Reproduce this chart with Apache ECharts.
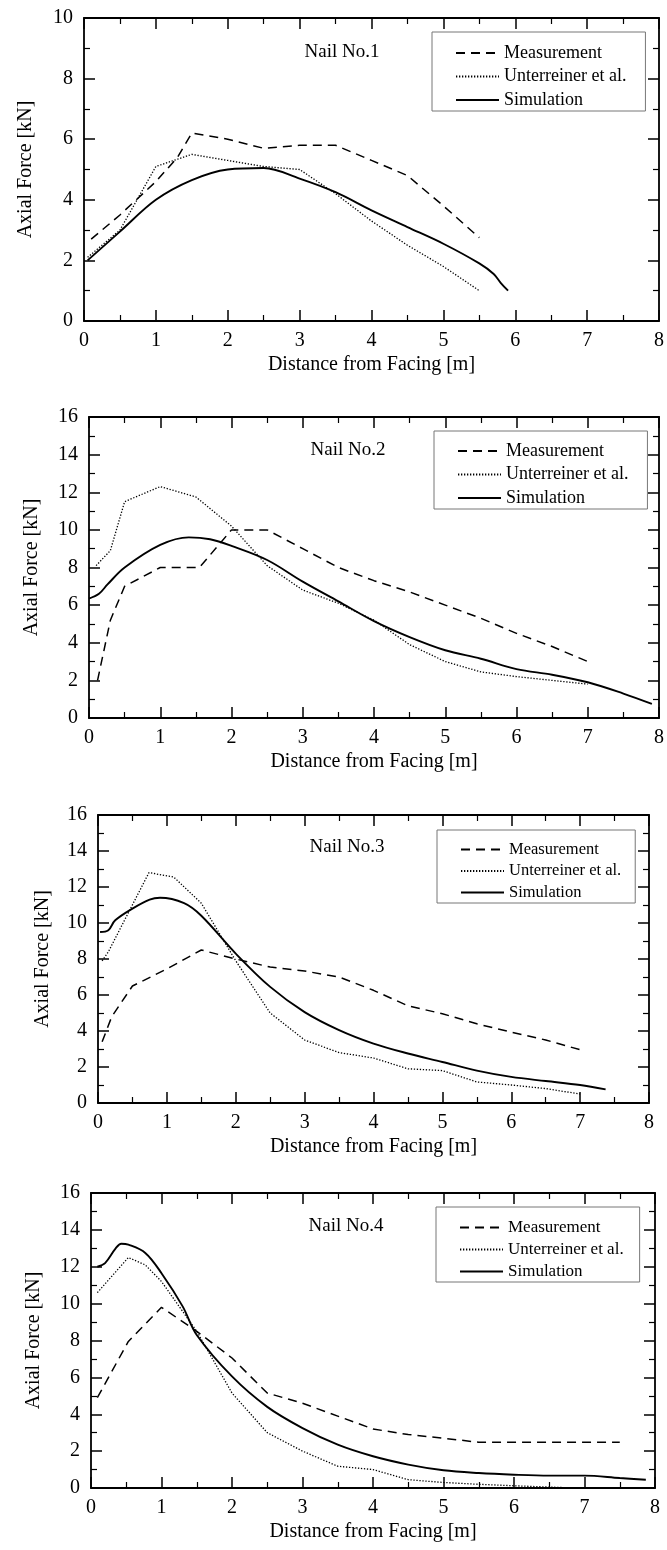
<!DOCTYPE html>
<html>
<head>
<meta charset="utf-8">
<script src="https://cdn.jsdelivr.net/npm/echarts@6/dist/echarts.min.js"></script>
<style>
html,body{margin:0;padding:0;background:#fff;}
#chart{width:667px;height:1550px;}
</style>
</head>
<body>
<div id="chart"></div>
<script>
// ---- data ----
const xTicks = [0,1,2,3,4,5,6,7,8];
const seriesNames = ['Measurement','Unterreiner et al.','Simulation'];
const panelTitles = ['Nail No.1','Nail No.2','Nail No.3','Nail No.4'];
const yMaxes = [10,16,16,16];

const nail1Measurement = [[0.1,2.7],[0.5,3.5],[1.0,4.6],[1.3,5.4],[1.5,6.2],[2.0,6.0],[2.5,5.7],[3.0,5.8],[3.5,5.8],[4.0,5.3],[4.5,4.8],[5.0,3.8],[5.5,2.75]];
const nail1Unterreiner = [[0.05,2.1],[0.5,3.0],[1.0,5.1],[1.5,5.5],[2.0,5.3],[2.5,5.1],[3.0,5.0],[3.5,4.2],[4.0,3.3],[4.5,2.5],[5.0,1.8],[5.5,1.0]];
const nail1Simulation = [[0.05,2.0],[0.5,2.95],[1.0,4.0],[1.5,4.65],[2.0,5.0],[2.5,5.05],[3.0,4.7],[3.5,4.25],[4.0,3.65],[4.5,3.1],[5.0,2.55],[5.5,1.9],[5.7,1.55],[5.8,1.25],[5.9,1.0]];

const nail2Measurement = [[0.12,2.0],[0.3,5.2],[0.5,7.0],[1.0,8.0],[1.55,8.0],[2.0,10.0],[2.5,10.0],[3.0,9.0],[3.5,8.0],[4.0,7.3],[4.5,6.7],[5.0,6.0],[5.5,5.3],[6.0,4.5],[6.5,3.8],[7.0,3.0]];
const nail2Unterreiner = [[0.1,8.1],[0.3,8.9],[0.5,11.5],[1.0,12.3],[1.5,11.75],[2.0,10.2],[2.5,8.1],[3.0,6.8],[3.5,6.1],[4.0,5.2],[4.5,3.9],[5.0,3.0],[5.5,2.45],[6.0,2.2],[6.5,2.0],[7.0,1.8]];
const nail2Simulation = [[0.0,6.35],[0.14,6.6],[0.26,7.1],[0.5,8.0],[1.0,9.2],[1.4,9.6],[1.7,9.5],[2.0,9.15],[2.5,8.4],[3.0,7.25],[3.5,6.2],[4.0,5.15],[4.5,4.3],[5.0,3.6],[5.5,3.15],[6.0,2.6],[6.5,2.3],[7.0,1.9],[7.5,1.3],[7.9,0.75]];

const nail3Measurement = [[0.06,3.4],[0.2,4.8],[0.5,6.5],[1.0,7.45],[1.5,8.5],[2.0,8.0],[2.5,7.55],[3.0,7.33],[3.5,7.0],[4.0,6.26],[4.5,5.4],[5.0,4.96],[5.5,4.4],[6.0,3.94],[6.5,3.5],[7.0,2.96]];
const nail3Unterreiner = [[0.06,7.9],[0.15,8.4],[0.74,12.8],[1.1,12.55],[1.5,11.1],[2.0,7.9],[2.5,5.0],[3.0,3.5],[3.5,2.8],[4.0,2.5],[4.5,1.9],[5.0,1.8],[5.5,1.17],[6.0,1.0],[6.5,0.8],[7.0,0.5]];
const nail3Simulation = [[0.03,9.5],[0.15,9.6],[0.25,10.15],[0.5,10.8],[0.75,11.3],[0.9,11.4],[1.25,11.1],[1.5,10.4],[2.0,8.3],[2.5,6.45],[3.0,5.05],[3.5,4.05],[4.0,3.3],[4.5,2.75],[5.0,2.28],[5.5,1.8],[6.0,1.45],[6.5,1.22],[7.0,1.0],[7.37,0.76]];

const nail4Measurement = [[0.09,4.9],[0.53,7.95],[1.0,9.8],[1.5,8.5],[2.0,7.05],[2.5,5.15],[3.0,4.6],[3.5,3.9],[4.0,3.2],[4.5,2.9],[5.0,2.7],[5.5,2.48],[6.0,2.48],[6.5,2.48],[7.0,2.48],[7.5,2.48]];
const nail4Unterreiner = [[0.09,10.6],[0.53,12.5],[0.77,12.1],[1.0,11.2],[1.5,8.5],[2.0,5.15],[2.5,3.0],[3.0,2.0],[3.5,1.18],[4.0,1.0],[4.5,0.45],[5.0,0.3],[5.5,0.2],[6.0,0.12],[6.5,0.05],[6.9,0.0]];
const nail4Simulation = [[0.09,12.0],[0.2,12.2],[0.35,13.0],[0.43,13.25],[0.53,13.2],[0.77,12.75],[1.0,11.65],[1.3,9.85],[1.5,8.3],[2.0,6.05],[2.5,4.4],[3.0,3.25],[3.5,2.35],[4.0,1.72],[4.5,1.27],[5.0,0.96],[5.5,0.81],[6.0,0.72],[6.5,0.67],[7.0,0.67],[7.5,0.54],[7.87,0.45]];

const panelData = [
  [nail1Measurement, nail1Unterreiner, nail1Simulation],
  [nail2Measurement, nail2Unterreiner, nail2Simulation],
  [nail3Measurement, nail3Unterreiner, nail3Simulation],
  [nail4Measurement, nail4Unterreiner, nail4Simulation]
];

// ---- layout ----
const FONT = '"Liberation Serif", "DejaVu Serif", serif';
const grids = [
  {left:84, top:18, width:576, height:303},
  {left:89, top:417, width:571, height:301},
  {left:98, top:815, width:551, height:288},
  {left:91, top:1193, width:564, height:295}
];
const yNameGaps = [48,47,45,47];
const legendPos = [
  {left:432, top:32, font:18, gap:5.5, padR:19, padT:12, padB:2},
  {left:434, top:431, font:18, gap:5.5, padR:19, padT:11, padB:2},
  {left:437, top:830, font:16.5, gap:4.5, padR:14, padT:11, padB:2},
  {left:436, top:1207, font:17, gap:5, padR:16, padT:12, padB:2}
];
const titlePos = [[342,52],[348,450],[347,847],[346,1226]];

const chart = echarts.init(document.getElementById('chart'), null, {renderer:'canvas'});

const xAxes = [], yAxes = [], series = [], legends = [], graphics = [];
const lineW = 1.8;
function tickCfg(len){ return {show:true, inside:true, length:len, lineStyle:{color:'#000', width:1.5}}; }
function minorCfg(){ return {show:true, splitNumber:2, length:6, lineStyle:{color:'#000', width:1.2}}; }

grids.forEach((g, i) => {
  const gi = i;
  xAxes.push({
    type:'value', gridIndex:gi, min:0, max:8, interval:1, position:'bottom',
    axisLine:{show:true, onZero:false, lineStyle:{color:'#000', width:lineW}},
    axisTick:tickCfg(11), minorTick:minorCfg(), splitLine:{show:false},
    axisLabel:{show:true, margin:10, color:'#000', fontFamily:FONT, fontSize:20,
      formatter:(v)=> xTicks.includes(v) ? String(v) : ''},
    name:'Distance from Facing [m]', nameLocation:'middle', nameGap:34,
    nameTextStyle:{color:'#000', fontFamily:FONT, fontSize:20}
  });
  xAxes.push({
    type:'value', gridIndex:gi, min:0, max:8, interval:1, position:'top',
    axisLine:{show:true, onZero:false, lineStyle:{color:'#000', width:lineW}},
    axisTick:tickCfg(11), minorTick:minorCfg(), splitLine:{show:false},
    axisLabel:{show:false}
  });
  const ym = yMaxes[i];
  yAxes.push({
    type:'value', gridIndex:gi, min:0, max:ym, interval:2, position:'left',
    axisLine:{show:true, onZero:false, lineStyle:{color:'#000', width:lineW}},
    axisTick:tickCfg(11), minorTick:minorCfg(), splitLine:{show:false},
    axisLabel:{show:true, margin:11, color:'#000', fontFamily:FONT, fontSize:20},
    name:'Axial Force [kN]', nameLocation:'middle', nameGap:yNameGaps[i], nameRotate:90,
    nameTextStyle:{color:'#000', fontFamily:FONT, fontSize:20}
  });
  yAxes.push({
    type:'value', gridIndex:gi, min:0, max:ym, interval:2, position:'right',
    axisLine:{show:true, onZero:false, lineStyle:{color:'#000', width:lineW}},
    axisTick:tickCfg(11), minorTick:minorCfg(), splitLine:{show:false},
    axisLabel:{show:false}
  });

  const styles = [
    {type:[9,6], width:1.5},
    {type:[1.3,1.7], width:1.3},
    {type:'solid', width:1.9}
  ];
  seriesNames.forEach((nm, k) => {
    series.push({
      type:'line', name:nm, xAxisIndex:2*i, yAxisIndex:2*i,
      data: panelData[i][k], symbol:'none', showSymbol:false,
      smooth: k === 2 ? 0.35 : false,
      lineStyle:{color:'#000', type:styles[k].type, width:styles[k].width},
      itemStyle:{color:'#000'},
      animation:false, z:3
    });
  });

  const lp = legendPos[i];
  legends.push({
    show:true, orient:'vertical', left:lp.left, top:lp.top,
    data:seriesNames, itemWidth:43, itemHeight:18, itemGap:lp.gap,
    padding:[lp.padT, lp.padR, lp.padB, 23],
    borderColor:'#777', borderWidth:1, backgroundColor:'#fff',
    selectedMode:false,
    itemStyle:{color:'rgba(0,0,0,0)', borderWidth:0, opacity:0},
    textStyle:{color:'#000', fontFamily:FONT, fontSize:lp.font}
  });

  graphics.push({
    type:'text', x:titlePos[i][0], y:titlePos[i][1], z:10,
    style:{text:panelTitles[i], fill:'#000', font:'19px ' + FONT, textAlign:'center', textVerticalAlign:'middle'}
  });
});

chart.setOption({
  backgroundColor:'#fff',
  animation:false,
  grid: grids.map(g => Object.assign({containLabel:false, show:false}, g)),
  xAxis: xAxes,
  yAxis: yAxes,
  legend: legends,
  series: series,
  graphic: graphics
});
</script>
</body>
</html>
